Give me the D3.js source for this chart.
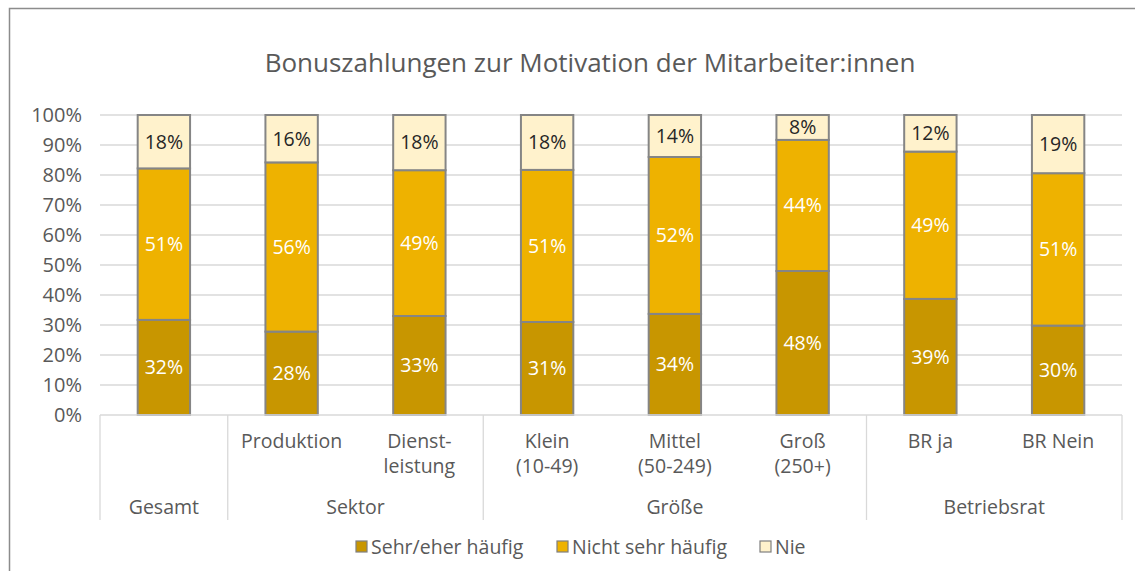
<!DOCTYPE html>
<html>
<head>
<meta charset="utf-8">
<script src="https://cdn.jsdelivr.net/npm/d3@7"></script>
<style>
  body { margin: 0; background: #fff; }
  text { font-family: "Open Sans", "Liberation Sans", sans-serif; }
</style>
</head>
<body>
<script>
// Data
const categories = ["Gesamt", "Produktion", "Dienstleistung", "Klein", "Mittel", "Groß", "BR ja", "BR Nein"];
const catLabels = [[""], ["Produktion"], ["Dienst-", "leistung"], ["Klein", "(10-49)"], ["Mittel", "(50-249)"], ["Groß", "(250+)"], ["BR ja"], ["BR Nein"]];
const groups = [
  { name: "Gesamt", from: 0, to: 0 },
  { name: "Sektor", from: 1, to: 2 },
  { name: "Größe", from: 3, to: 5 },
  { name: "Betriebsrat", from: 6, to: 7 }
];
const seriesNames = ["Sehr/eher häufig", "Nicht sehr häufig", "Nie"];
const sehrHaeufig = [31.7, 27.8, 33.0, 31.0, 33.7, 48.0, 38.7, 29.8];
const nichtSehr = [50.5, 56.4, 48.6, 50.7, 52.3, 43.7, 49.1, 50.8];
const nie = [17.8, 15.8, 18.4, 18.3, 14.0, 8.3, 12.2, 19.4];
const yTicks = [0, 10, 20, 30, 40, 50, 60, 70, 80, 90, 100];

const colors = ["#C89600", "#EEB200", "#FFF2CC"];
const labelColors = ["#ffffff", "#ffffff", "#262626"];

const W = 1135, H = 571;
const margin = { top: 115, right: 13, bottom: 156, left: 100 };
const width = W - margin.left - margin.right;
const height = H - margin.top - margin.bottom;
const fs = 19.5;

const svg = d3.select("body").append("svg")
  .attr("width", W)
  .attr("height", H);

// chart border
svg.append("rect")
  .attr("x", 9.5).attr("y", 8.5)
  .attr("width", W + 20).attr("height", H + 20)
  .attr("fill", "none").attr("stroke", "#8c8c8c").attr("stroke-width", 1.5);

svg.append("text")
  .attr("x", 590).attr("y", 72)
  .attr("text-anchor", "middle")
  .attr("font-size", 26)
  .attr("fill", "#595959")
  .text("Bonuszahlungen zur Motivation der Mitarbeiter:innen");

const g = svg.append("g").attr("transform", `translate(${margin.left},${margin.top})`);

const x = d3.scaleBand().domain(categories).range([0, width]).paddingInner(0.59).paddingOuter(0.295);
const y = d3.scaleLinear().domain([0, 100]).range([height, 0]);

// gridlines
g.append("g").selectAll("line").data(yTicks.slice(1)).join("line")
  .attr("x1", 0).attr("x2", width)
  .attr("y1", d => y(d)).attr("y2", d => y(d))
  .attr("stroke", "#d9d9d9").attr("stroke-width", 1.3);

// y axis labels
const yAxis = d3.axisLeft(y).tickValues(yTicks).tickFormat(d => d + "%").tickSize(0).tickPadding(18);
const gy = g.append("g").call(yAxis);
gy.select(".domain").remove();
gy.selectAll("text").attr("font-size", 20).attr("fill", "#595959").attr("font-family", "'Open Sans', sans-serif");

// stacked data
const table = categories.map((c, i) => ({ cat: c, s0: sehrHaeufig[i], s1: nichtSehr[i], s2: nie[i] }));
const stack = d3.stack().keys(["s0", "s1", "s2"])(table);

const layers = g.append("g").selectAll("g").data(stack).join("g")
  .attr("fill", (d, i) => colors[i]);

layers.selectAll("rect").data(d => d).join("rect")
  .attr("x", d => x(d.data.cat))
  .attr("y", d => y(d[1]))
  .attr("width", x.bandwidth())
  .attr("height", d => y(d[0]) - y(d[1]))
  .attr("stroke", "#858585").attr("stroke-width", 2);

stack.forEach((layer, i) => {
  g.append("g").selectAll("text").data(layer).join("text")
    .attr("x", d => x(d.data.cat) + x.bandwidth() / 2)
    .attr("y", d => (y(d[0]) + y(d[1])) / 2)
    .attr("dy", "0.35em")
    .attr("text-anchor", "middle")
    .attr("font-size", fs)
    .attr("fill", labelColors[i])
    .text(d => Math.round(d[1] - d[0]) + "%");
});

// category axis (two levels)
const axisG = g.append("g").attr("transform", `translate(0,${height})`);
axisG.append("line")
  .attr("x1", 0).attr("x2", width).attr("y1", 0).attr("y2", 0)
  .attr("stroke", "#d9d9d9").attr("stroke-width", 1.3);

const step = x.step();
const bounds = [0].concat(groups.map(d => (d.to + 1) * step));
axisG.selectAll(".sep").data(bounds).join("line")
  .attr("x1", d => d).attr("x2", d => d)
  .attr("y1", 0).attr("y2", 105)
  .attr("stroke", "#d9d9d9").attr("stroke-width", 1.3);

catLabels.forEach((lines, i) => {
  axisG.append("text")
    .attr("x", x(categories[i]) + x.bandwidth() / 2)
    .attr("y", 33)
    .attr("text-anchor", "middle")
    .attr("font-size", fs)
    .attr("fill", "#595959")
    .selectAll("tspan").data(lines).join("tspan")
    .attr("x", x(categories[i]) + x.bandwidth() / 2)
    .attr("dy", (d, k) => k === 0 ? 0 : 25)
    .text(d => d);
});

axisG.selectAll(".grp").data(groups).join("text")
  .attr("x", d => (d.from * step + (d.to + 1) * step) / 2)
  .attr("y", 99)
  .attr("text-anchor", "middle")
  .attr("font-size", fs)
  .attr("fill", "#595959")
  .text(d => d.name);

// legend
const legend = svg.append("g").attr("transform", "translate(0,547)");
const legX = [356, 557, 760];
seriesNames.forEach((n, i) => {
  legend.append("rect")
    .attr("x", legX[i]).attr("y", -6)
    .attr("width", 11).attr("height", 11)
    .attr("fill", colors[i]).attr("stroke", "#7f7f7f").attr("stroke-width", 1.2);
  legend.append("text")
    .attr("x", legX[i] + 15).attr("y", 0)
    .attr("dy", "0.35em")
    .attr("font-size", fs)
    .attr("fill", "#595959")
    .text(n);
});
</script>
</body>
</html>
